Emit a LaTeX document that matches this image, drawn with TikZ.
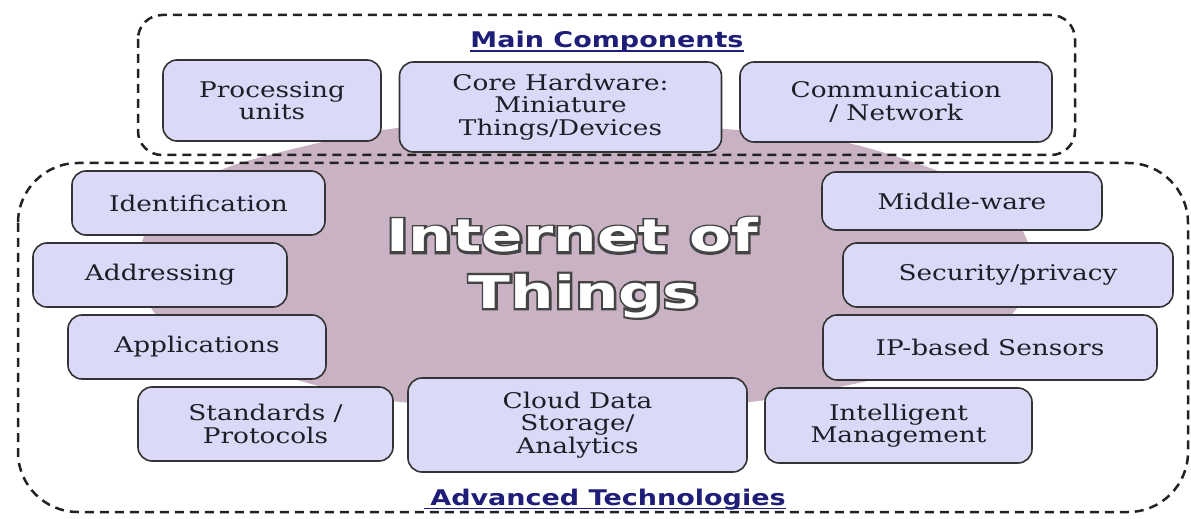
\documentclass[tikz,border=0pt]{standalone}
\usepackage{fontspec}
\setmainfont{DejaVu Serif}
\newfontfamily\boxfont[FakeStretch=1.22]{DejaVu Serif}
\newfontfamily\headfont[FakeStretch=1.25]{DejaVu Sans}
\newfontfamily\iotfont[FakeStretch=1.36]{DejaVu Sans Bold}
\newfontfamily\iotoutfont[FakeStretch=1.36,FakeBold=10]{DejaVu Sans Bold}
\definecolor{boxfill}{HTML}{DADAF8}
\definecolor{boxline}{HTML}{333333}
\definecolor{boxtext}{HTML}{1E1E28}
\definecolor{mauve}{HTML}{C8B2C4}
\definecolor{dashcol}{HTML}{222222}
\definecolor{navy}{HTML}{1E1E78}
\definecolor{outl}{HTML}{444444}
\begin{document}
\begin{tikzpicture}[x=0.5pt,y=-0.5pt,
  tbox/.style={draw=boxline, fill=boxfill, line width=0.8pt, rounded corners=7pt,
    align=center, inner sep=0pt, text=boxtext,
    font=\boxfont\fontsize{10.8}{11.2}\selectfont},
  group/.style={draw=dashcol, line width=1.25pt, dash pattern=on 4.5pt off 3pt, rounded corners=#1},
  heading/.style={text=navy, font=\headfont\bfseries\fontsize{10.8}{12}\selectfont, inner sep=0pt, anchor=base},
  iot/.style={font=\iotfont\fontsize{22.5}{24}\selectfont, inner sep=0pt, anchor=base, text=white},
  iotout/.style={font=\iotoutfont\fontsize{22.5}{24}\selectfont, inner sep=0pt, anchor=base, text=outl}]
\useasboundingbox (0,0) rectangle (1191,519);
% central shape
\fill[mauve] plot[smooth cycle, tension=0.45] coordinates {
  (590,121) (725,129) (843,142) (930,168) (1000,200) (1027,240) (1031,275)
  (1013,313) (950,360) (868,381) (750,402) (590,409) (400,402) (297,380)
  (200,345) (153,311) (140,265) (146,232) (180,194) (240,163) (397,128)};
% groups
\draw[group=12pt] (138,15) rectangle (1075,155);
\draw[group=30pt] (18,163) rectangle (1188,512);
% headings
\node[heading] (mc) at (607,48) {Main Components};
\draw[navy, line width=0.7pt] ([yshift=-1.6pt]mc.base west) -- ([yshift=-1.6pt]mc.base east);
\node[heading] (at) at (608,505) {Advanced Technologies};
\draw[navy, line width=0.7pt] ([yshift=-1.6pt,xshift=-3pt]at.base west) -- ([yshift=-1.6pt]at.base east);
% main components
\node[tbox, minimum width=109pt, minimum height=40.5pt] (proc) at (272,100.5) {Processing\\units};
\node[tbox, minimum width=161pt, minimum height=45pt] (core) at (560.5,107) {Core Hardware:\\Miniature\\Things/Devices};
\node[tbox, minimum width=156pt, minimum height=40pt] (comm) at (896,102) {Communication\\/ Network};
% advanced technologies
\node[tbox, minimum width=126.5pt, minimum height=32pt] (ident) at (198.5,203) {Identification};
\node[tbox, minimum width=127pt, minimum height=32pt] (addr) at (160,275) {Addressing};
\node[tbox, minimum width=129pt, minimum height=32pt] (appl) at (197,347) {Applications};
\node[tbox, minimum width=127.5pt, minimum height=37pt] (std) at (265.5,424) {Standards /\\Protocols};
\node[tbox, minimum width=169.5pt, minimum height=47pt] (cloud) at (577.5,425) {Cloud Data\\Storage/\\Analytics};
\node[tbox, minimum width=133.5pt, minimum height=37.5pt] (intel) at (898.5,425.5) {Intelligent\\Management};
\node[tbox, minimum width=167pt, minimum height=32.5pt] (ip) at (990,347.5) {IP-based Sensors};
\node[tbox, minimum width=165pt, minimum height=32pt] (sec) at (1008,275) {Security/privacy};
\node[tbox, minimum width=140pt, minimum height=29pt] (mid) at (962,201) {Middle-ware};
% title
\node[iotout] (iotout1) at (572,252) {Internet of};
\node[iotout] (iotout2) at (584,308) {Things};
\node[iot] (iot1) at (572,252) {Internet of};
\node[iot] (iot2) at (584,308) {Things};
\end{tikzpicture}
\end{document}
